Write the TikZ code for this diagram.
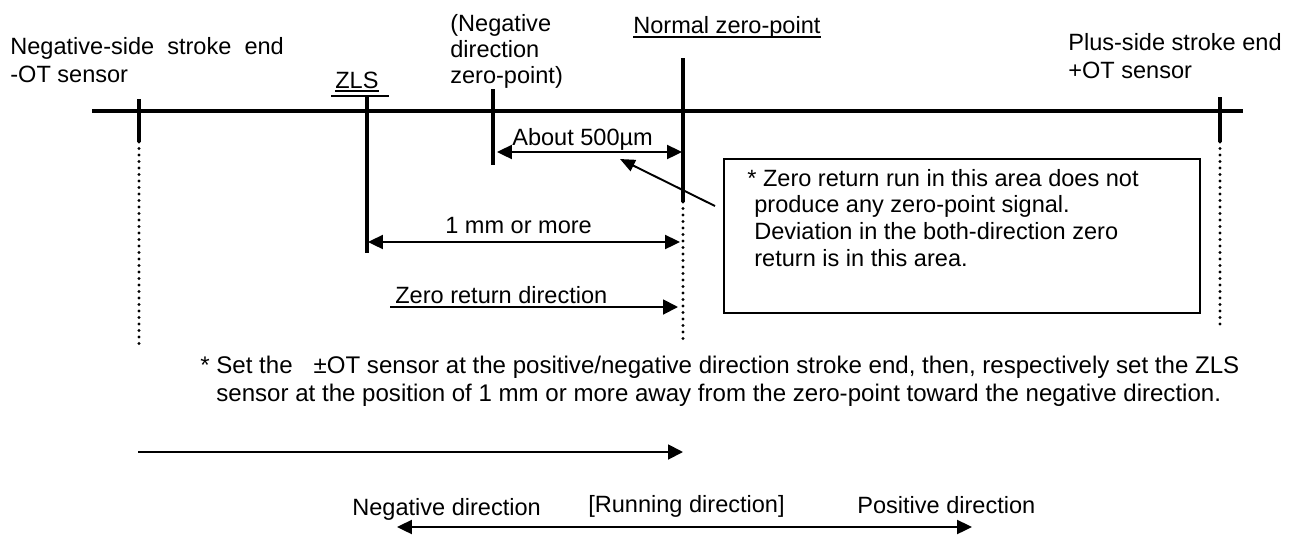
\documentclass[tikz,border=0pt]{standalone}
\usepackage{fontspec}
\setmainfont{Liberation Sans}
\usetikzlibrary{arrows.meta,calc}
\tikzset{
  txt/.style     = {inner sep=0pt, font=\fontsize{13.4}{15.4}\selectfont},
  lbl/.style     = {txt, anchor=base west, align=left},
  axis/.style    = {line width=2.3pt},
  tick/.style    = {line width=2.3pt},
  dots/.style    = {line width=1.8pt, line cap=round, dash pattern=on 0pt off 3.7pt},
  uline/.style   = {line width=1pt},
  dimline/.style = {line width=1.1pt,
                    {Triangle[length=8.5pt,width=8pt]}-{Triangle[length=8.5pt,width=8pt]}},
  dirline/.style = {line width=1.1pt, -{Triangle[length=8.5pt,width=8.5pt]}},
  pointer/.style = {line width=1.1pt, -{Triangle[length=8.5pt,width=7pt]}},
  notebox/.style = {draw, line width=1.1pt, inner sep=0pt, anchor=north west,
                    minimum width=476*0.02cm, minimum height=154*0.02cm}
}
\begin{document}
\begin{tikzpicture}[x=0.02cm, y=-0.02cm]
  \useasboundingbox (0,0) rectangle (1296,535);

  \coordinate (axl) at (92,111);
  \coordinate (axr) at (1243,111);
  \draw[axis] (axl) -- (axr);

  \coordinate (otm top) at (139,99);
  \coordinate (otm mid) at (139,142);
  \coordinate (otm bot) at (139,350);
  \coordinate (zls top) at (367,96);
  \coordinate (zls bot) at (367,253);
  \coordinate (nzd top) at (493,89);
  \coordinate (nzd bot) at (493,165);
  \coordinate (nz top)  at (683,58);
  \coordinate (nz mid)  at (683,202);
  \coordinate (nz bot)  at (683,345);
  \coordinate (otp top) at (1220,97);
  \coordinate (otp mid) at (1220,142);
  \coordinate (otp bot) at (1220,328);

  \draw[tick] (otm top) -- (otm mid);
  \draw[dots] (otm mid) -- (otm bot);
  \draw[tick] (zls top) -- (zls bot);
  \draw[tick] (nzd top) -- (nzd bot);
  \draw[tick] (nz top) -- (nz mid);
  \draw[dots] (nz mid) -- (nz bot);
  \draw[tick] (otp top) -- (otp mid);
  \draw[dots] (otp mid) -- (otp bot);

  \node[lbl] (negend) at (10,82) {Negative-side\ \ stroke\ \ end\\-OT sensor};
  \node[lbl] (plusend) at (1068,78) {Plus-side stroke end\\+OT sensor};
  \node[lbl] (zls) at (335,88) {ZLS};
  \draw[uline] ($(zls.base west)+(0,3)$) -- ($(zls.base east)+(0,3)$);
  \draw[uline] ($(zls.base west)+(-4,8)$) -- ($(zls.base east)+(10,8)$);
  \node[lbl, font=\fontsize{13.4}{14.8}\selectfont] (nzdlbl) at (450,83)
    {(Negative\\direction\\zero-point)};
  \node[lbl] (nz) at (633,33) {Normal zero-point};
  \draw[uline] ($(nz.base west)+(0,4)$) -- ($(nz.base east)+(0,4)$);

  \coordinate (about l) at (497,152);
  \coordinate (about r) at (682,152);
  \draw[dimline] (about l) -- (about r);
  \node[lbl] (about) at (512,145) {About 500µm};

  \coordinate (onemm l) at (368,242);
  \coordinate (onemm r) at (680,242);
  \draw[dimline] (onemm l) -- (onemm r);
  \node[lbl] (onemm) at (445,233) {1 mm or more};

  \coordinate (zret l) at (390,307);
  \coordinate (zret r) at (678,307);
  \draw[dirline] (zret l) -- (zret r);
  \node[lbl] (zret) at (395,303) {Zero return direction};

  \node[notebox] (note) at (723,158) {};
  \node[lbl, font=\fontsize{13.4}{15.1}\selectfont] (notetext) at (747,266)
    {* Zero return run in this area does not\\
     \hspace*{4pt}produce any zero-point signal.\\
     \hspace*{4pt}Deviation in the both-direction zero\\
     \hspace*{4pt}return is in this area.};
  \coordinate (ptr from) at (715,206);
  \coordinate (ptr to) at (620,159);
  \draw[pointer] (ptr from) -- (ptr to);

  \node[lbl, font=\fontsize{13.7}{15.6}\selectfont] (foot) at (200,401)
    {* Set the\hspace{0.7em}\makebox[0.72em][r]{±}OT sensor at the positive/negative direction stroke end, then, respectively set the ZLS\\
     \hphantom{* }sensor at the position of 1 mm or more away from the zero-point toward the negative direction.};

  \coordinate (run l) at (138,452);
  \coordinate (run r) at (683,452);
  \draw[dirline] (run l) -- (run r);

  \node[lbl] (neg) at (352,515) {Negative direction};
  \node[lbl] (runlbl) at (588,512) {[Running direction]};
  \node[lbl] (pos) at (857,513) {Positive direction};
  \coordinate (dir l) at (397,527);
  \coordinate (dir r) at (972,527);
  \draw[dimline] (dir l) -- (dir r);
\end{tikzpicture}
\end{document}
